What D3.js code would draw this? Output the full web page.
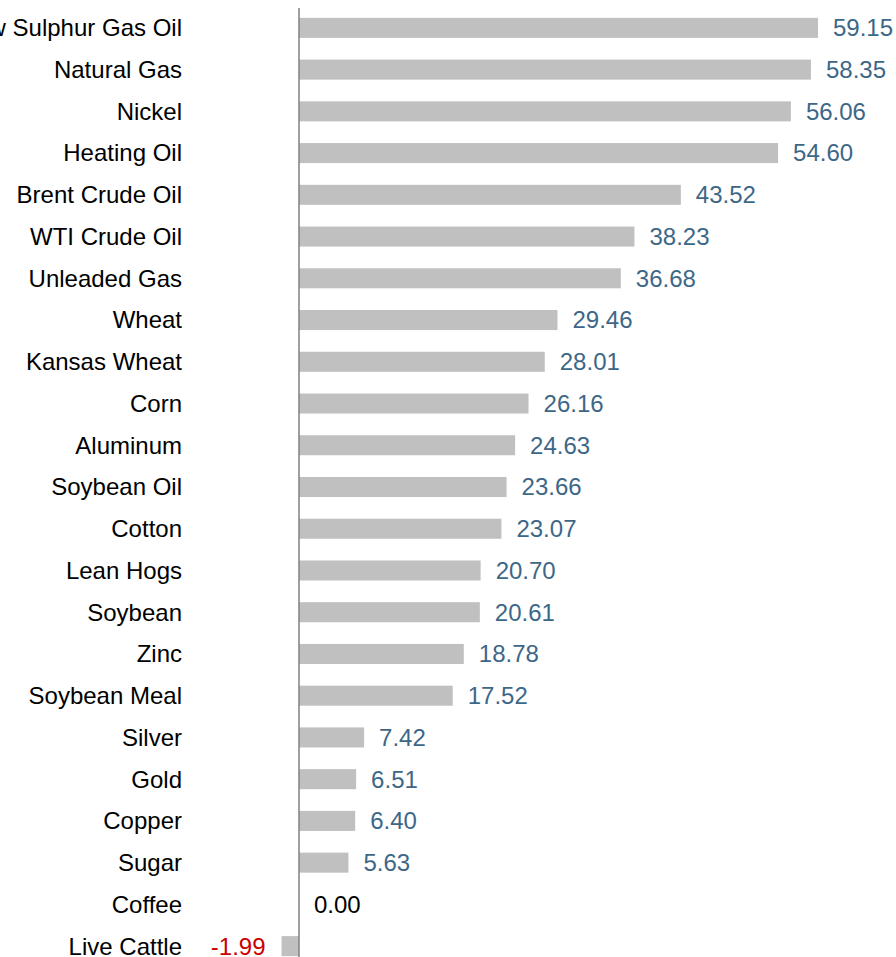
<!DOCTYPE html>
<html>
  <head>
    <meta charset="utf-8">
    <title></title>
    <style>
      body, html{
        margin: 0;
        width: 100%;
        height: 100%;
        background: #fff;
      }
      svg text{
        font-family: "Liberation Sans", Arial, sans-serif;
        font-size: 24px;
      }
    </style>
  </head>
  <body>
    <div id="chart"></div>
    <script src="https://cdn.jsdelivr.net/npm/d3@7"></script>
    <script>

var categories = ['Low Sulphur Gas Oil', 'Natural Gas', 'Nickel', 'Heating Oil', 'Brent Crude Oil',
  'WTI Crude Oil', 'Unleaded Gas', 'Wheat', 'Kansas Wheat', 'Corn', 'Aluminum', 'Soybean Oil',
  'Cotton', 'Lean Hogs', 'Soybean', 'Zinc', 'Soybean Meal', 'Silver', 'Gold', 'Copper', 'Sugar',
  'Coffee', 'Live Cattle']
var values = [59.15, 58.35, 56.06, 54.60, 43.52, 38.23, 36.68, 29.46, 28.01, 26.16, 24.63, 23.66,
  23.07, 20.70, 20.61, 18.78, 17.52, 7.42, 6.51, 6.40, 5.63, 0.00, -1.99]

var width = 896, height = 957
var svg = d3.select('#chart').append('svg').attr('width', width).attr('height', height)

// zero sits at x=299, 59.15 ends at x=818
var x = d3.scaleLinear().domain([0, 59.15]).range([299, 818])
var y = d3.scaleBand().domain(categories).range([7, 967]).paddingInner(0.52).paddingOuter(0.26)

function fmt(v){ return v.toFixed(2) }

var rows = svg.selectAll('g.row').data(categories).enter().append('g').attr('class', 'row')

rows.append('rect')
  .attr('x', function(d, i){ return Math.min(x(0), x(values[i])) })
  .attr('y', function(d){ return y(d) })
  .attr('width', function(d, i){ return Math.abs(x(values[i]) - x(0)) })
  .attr('height', y.bandwidth())
  .attr('fill', '#c0c0c0')

rows.append('text')
  .attr('x', 182)
  .attr('y', function(d){ return y(d) + y.bandwidth() / 2 })
  .attr('dy', '0.35em')
  .attr('text-anchor', 'end')
  .attr('fill', '#000')
  .text(function(d){ return d })

rows.append('text')
  .attr('x', function(d, i){
    var v = values[i]
    if(v < 0) return x(v) - 16
    return x(v) + 15
  })
  .attr('y', function(d){ return y(d) + y.bandwidth() / 2 })
  .attr('dy', '0.35em')
  .attr('text-anchor', function(d, i){ return values[i] < 0 ? 'end' : 'start' })
  .attr('fill', function(d, i){
    var v = values[i]
    if(v < 0) return '#cc0000'
    if(v === 0) return '#000'
    return '#3d6787'
  })
  .text(function(d, i){ return fmt(values[i]) })

// axis line at zero
svg.append('line')
  .attr('x1', x(0)).attr('x2', x(0))
  .attr('y1', 8).attr('y2', height)
  .attr('stroke', '#808080')
  .attr('stroke-width', 1.5)
    </script>
  </body>
</html>
